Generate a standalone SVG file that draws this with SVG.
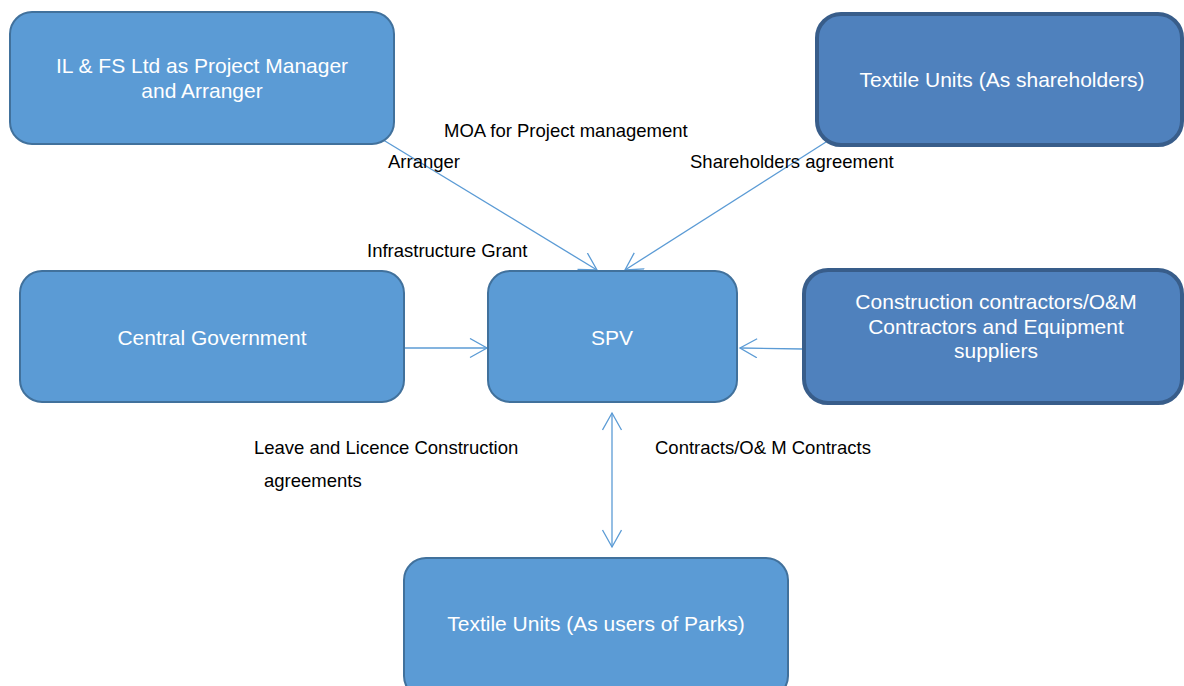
<svg xmlns="http://www.w3.org/2000/svg" width="1184" height="686" viewBox="0 0 1184 686">
  <style>
    .light { fill: #5B9BD5; stroke: #41719C; stroke-width: 2; }
    .dark { fill: #4F81BD; stroke: #385D8A; stroke-width: 4; }
    .ntext { font-family: "Liberation Sans", Arial, sans-serif; font-size: 21px; fill: #FFFFFF; text-anchor: middle; }
    .label { font-family: "Liberation Sans", Arial, sans-serif; font-size: 18.5px; fill: #000000; }
    .conn { stroke: #5B9BD5; stroke-width: 1.3; fill: none; }
  </style>
  <defs>
    <marker id="arrow" markerUnits="userSpaceOnUse" markerWidth="22" markerHeight="22" refX="18" refY="10" orient="auto-start-reverse">
      <path d="M1,0.5 L18,10 L1,19.5" fill="none" stroke="#5B9BD5" stroke-width="1.3"/>
    </marker>
  </defs>
  <rect width="1184" height="686" fill="#FFFFFF"/>

  <!-- connectors -->
  <g id="connectors">
    <line class="conn" x1="380" y1="138" x2="597" y2="270" marker-end="url(#arrow)"/>
    <line class="conn" x1="826" y1="142" x2="625" y2="270" marker-end="url(#arrow)"/>
    <line class="conn" x1="405" y1="348" x2="487" y2="348" marker-end="url(#arrow)"/>
    <line class="conn" x1="803" y1="349" x2="740" y2="348" marker-end="url(#arrow)"/>
    <line class="conn" x1="612" y1="413" x2="612" y2="547" marker-start="url(#arrow)" marker-end="url(#arrow)"/>
  </g>

  <!-- nodes -->
  <g id="ilfs">
    <rect class="light" x="10" y="12" width="384" height="132" rx="22" ry="22"/>
    <text class="ntext" x="202" y="73">IL &amp; FS Ltd as Project Manager</text>
    <text class="ntext" x="202" y="98">and Arranger</text>
  </g>
  <g id="shareholders">
    <rect class="dark" x="817" y="14" width="365" height="131" rx="24" ry="24"/>
    <text class="ntext" x="1002" y="87">Textile Units (As shareholders)</text>
  </g>
  <g id="central-gov">
    <rect class="light" x="20" y="271" width="384" height="131" rx="22" ry="22"/>
    <text class="ntext" x="212" y="345">Central Government</text>
  </g>
  <g id="spv">
    <rect class="light" x="488" y="271" width="249" height="131" rx="22" ry="22"/>
    <text class="ntext" x="612" y="345">SPV</text>
  </g>
  <g id="contractors">
    <rect class="dark" x="804" y="270" width="378" height="133" rx="24" ry="24"/>
    <text class="ntext" x="996" y="309">Construction contractors/O&amp;M</text>
    <text class="ntext" x="996" y="334">Contractors and Equipment</text>
    <text class="ntext" x="996" y="358">suppliers</text>
  </g>
  <g id="users">
    <rect class="light" x="404" y="558" width="384" height="140" rx="22" ry="22"/>
    <text class="ntext" x="596" y="631">Textile Units (As users of Parks)</text>
  </g>

  <!-- connector labels -->
  <g id="labels">
    <text class="label" x="444" y="137">MOA for Project management</text>
    <text class="label" x="388" y="168">Arranger</text>
    <text class="label" x="690" y="168">Shareholders agreement</text>
    <text class="label" x="367" y="257">Infrastructure Grant</text>
    <text class="label" x="254" y="454">Leave and Licence Construction</text>
    <text class="label" x="264" y="487">agreements</text>
    <text class="label" x="655" y="454">Contracts/O&amp; M Contracts</text>
  </g>
</svg>
